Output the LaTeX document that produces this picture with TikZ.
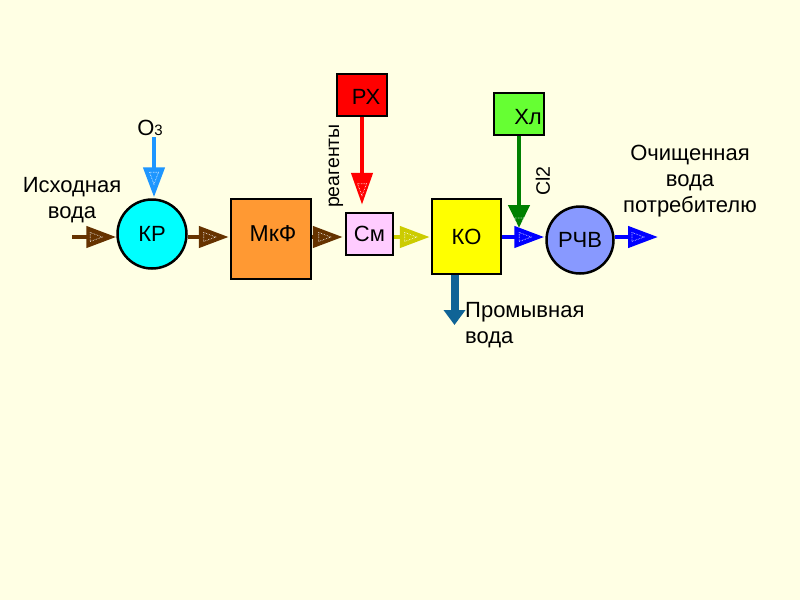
\documentclass[tikz,border=0pt]{standalone}
\usepackage{fontspec}
\setmainfont{Liberation Sans}
\usetikzlibrary{arrows.meta,decorations.markings,calc}

\definecolor{bg}{RGB}{255,255,228}
\definecolor{flowbrown}{RGB}{102,51,0}
\definecolor{ozblue}{RGB}{30,150,255}
\definecolor{krcyan}{RGB}{0,255,255}
\definecolor{mkforange}{RGB}{255,153,51}
\definecolor{cmpink}{RGB}{255,204,255}
\definecolor{flowolive}{RGB}{204,204,0}
\definecolor{koyellow}{RGB}{255,255,0}
\definecolor{xlgreen}{RGB}{102,255,51}
\definecolor{clgreen}{RGB}{0,128,0}
\definecolor{flowblue}{RGB}{0,0,255}
\definecolor{rchvblue}{RGB}{136,153,255}
\definecolor{washblue}{RGB}{16,100,150}
\definecolor{rxred}{RGB}{255,0,0}

\tikzset{
  box/.style={draw=black, line width=2.5pt, inner sep=0pt},
  lbl/.style={inner sep=0pt, font=\fontsize{22}{26}\selectfont},
  boxtext/.style={font=\fontsize{22}{26}\selectfont},
  flow/.style={line width=4.5pt, -{Triangle[length=#1,width=21pt]},
    postaction={decorate},
    decoration={markings, mark=at position 1 with {
      \draw[white, arrows=-, shorten >=0pt, solid, line width=0.6pt, densely dotted]
        (-#1+4pt,-4.5pt) -- (-#1+16pt,0pt) -- (-#1+4pt,4.5pt) -- cycle;}}},
  flow/.default=30pt,
  washflow/.style={line width=8pt, draw=washblue, -{Triangle[length=15pt,width=21pt]}},
}

\begin{document}
\begin{tikzpicture}[x=1pt,y=-1pt]
\fill[bg] (0,0) rectangle (800,600);
\useasboundingbox (0,0) rectangle (800,600);

\coordinate (row) at (0,237);

% nodes
\node[circle, box, fill=krcyan, minimum size=69pt, boxtext] (kr) at (152,234) {КР};
\node[box, fill=mkforange, minimum width=80pt, minimum height=80pt] (mkf) at (271,239) {};
\node[lbl, font=\fontsize{23}{26}\selectfont] (mkft) at (273,234) {МкФ};
\node[box, fill=cmpink, minimum width=47pt, minimum height=42pt, boxtext] (cm) at (369.5,234) {См};
\node[box, fill=koyellow, minimum width=69pt, minimum height=75pt, boxtext] (ko) at (466.5,236.5) {КО};
\node[circle, box, fill=rchvblue, minimum size=67pt, boxtext] (rchv) at (580,240) {РЧВ};
\node[box, fill=rxred, minimum width=50pt, minimum height=42pt] (rx) at (362,95) {};
\node[lbl] (rxt) at (366,97) {РХ};
\node[box, fill=xlgreen, minimum width=50pt, minimum height=42pt] (xl) at (519,114) {};
\node[lbl] (xlt) at (528,117) {Хл};

% connectors
\coordinate (src) at (72,237);
\coordinate (out) at (658,237);
\coordinate (o3top) at (154,137);
\coordinate (wash) at (454.5,325);

\draw[flow, flowbrown] (src) -- (src -| kr.west);
\draw[flow, flowbrown, shorten >=1pt] (kr.east |- row) -- (mkf.west |- row);
\draw[flow, flowbrown, shorten >=2pt] (mkf.east |- row) -- (cm.west |- row);
\draw[flow, flowolive, shorten >=1pt] (cm.east |- row) -- (ko.west |- row);
\draw[flow=23pt, clgreen, shorten >=9pt] (xl.south) -- (xl.south |- row);
\draw[flow, flowblue, shorten >=1pt] (ko.east |- row) -- (rchv.west |- row);
\draw[flow, flowblue] (rchv.east |- row) -- (out);
\draw[flow, ozblue, shorten >=1pt] (o3top) -- (o3top |- kr.north);
\draw[flow=32pt, rxred, shorten >=7pt] (rx.south) -- (rx.south |- cm.north);
\draw[washflow] (wash |- ko.south) -- (wash);

% labels
\node[lbl, anchor=base] (o3) at (150,135) {O{\fontsize{15}{15}\selectfont 3}};
\node[lbl, align=center, anchor=base] (srcl) at (72,218) {Исходная\\вода};
\node[lbl, align=center, anchor=base] (outl) at (690,212) {Очищенная\\вода\\потребителю};
\node[lbl, align=left, anchor=base west] (washl) at (465,343) {Промывная\\вода};
\node[inner sep=0pt, font=\fontsize{19.5}{22}\selectfont, rotate=90] (reag) at (336,166) {реагенты};
\node[inner sep=0pt, font=\fontsize{19.5}{22}\selectfont, rotate=90] (cl2) at (543,181) {Cl2};
\end{tikzpicture}
\end{document}
